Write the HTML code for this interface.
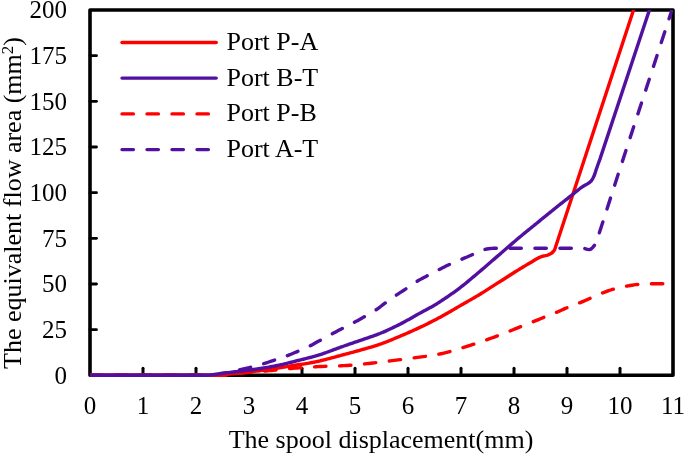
<!DOCTYPE html>
<html><head><meta charset="utf-8"><style>
html,body{margin:0;padding:0;background:#fff;width:685px;height:455px;overflow:hidden}
svg{display:block}
svg{will-change:transform}
text{font-family:"Liberation Serif",serif;font-size:26px;fill:#000}
</style></head><body>
<svg width="685" height="455" viewBox="0 0 685 455">
<rect width="685" height="455" fill="#fff"/>
<rect x="90.0" y="10.0" width="583.0" height="365.3" fill="none" stroke="#000" stroke-width="3.6" stroke-linejoin="round"/>
<line x1="90.0" y1="329.64" x2="96.5" y2="329.64" stroke="#000" stroke-width="2.8" stroke-linecap="round"/>
<line x1="90.0" y1="283.98" x2="96.5" y2="283.98" stroke="#000" stroke-width="2.8" stroke-linecap="round"/>
<line x1="90.0" y1="238.31" x2="96.5" y2="238.31" stroke="#000" stroke-width="2.8" stroke-linecap="round"/>
<line x1="90.0" y1="192.65" x2="96.5" y2="192.65" stroke="#000" stroke-width="2.8" stroke-linecap="round"/>
<line x1="90.0" y1="146.99" x2="96.5" y2="146.99" stroke="#000" stroke-width="2.8" stroke-linecap="round"/>
<line x1="90.0" y1="101.32" x2="96.5" y2="101.32" stroke="#000" stroke-width="2.8" stroke-linecap="round"/>
<line x1="90.0" y1="55.66" x2="96.5" y2="55.66" stroke="#000" stroke-width="2.8" stroke-linecap="round"/>
<line x1="143.00" y1="375.3" x2="143.00" y2="368.3" stroke="#000" stroke-width="3" stroke-linecap="round"/>
<line x1="196.00" y1="375.3" x2="196.00" y2="368.3" stroke="#000" stroke-width="3" stroke-linecap="round"/>
<line x1="249.00" y1="375.3" x2="249.00" y2="368.3" stroke="#000" stroke-width="3" stroke-linecap="round"/>
<line x1="302.00" y1="375.3" x2="302.00" y2="368.3" stroke="#000" stroke-width="3" stroke-linecap="round"/>
<line x1="355.00" y1="375.3" x2="355.00" y2="368.3" stroke="#000" stroke-width="3" stroke-linecap="round"/>
<line x1="408.00" y1="375.3" x2="408.00" y2="368.3" stroke="#000" stroke-width="3" stroke-linecap="round"/>
<line x1="461.00" y1="375.3" x2="461.00" y2="368.3" stroke="#000" stroke-width="3" stroke-linecap="round"/>
<line x1="514.00" y1="375.3" x2="514.00" y2="368.3" stroke="#000" stroke-width="3" stroke-linecap="round"/>
<line x1="567.00" y1="375.3" x2="567.00" y2="368.3" stroke="#000" stroke-width="3" stroke-linecap="round"/>
<line x1="620.00" y1="375.3" x2="620.00" y2="368.3" stroke="#000" stroke-width="3" stroke-linecap="round"/>
<text x="67" y="383.70" text-anchor="end" style="font-size:25px">0</text>
<text x="67" y="338.04" text-anchor="end" style="font-size:25px">25</text>
<text x="67" y="292.38" text-anchor="end" style="font-size:25px">50</text>
<text x="67" y="246.71" text-anchor="end" style="font-size:25px">75</text>
<text x="67" y="201.05" text-anchor="end" style="font-size:25px">100</text>
<text x="67" y="155.39" text-anchor="end" style="font-size:25px">125</text>
<text x="67" y="109.72" text-anchor="end" style="font-size:25px">150</text>
<text x="67" y="64.06" text-anchor="end" style="font-size:25px">175</text>
<text x="67" y="18.40" text-anchor="end" style="font-size:25px">200</text>
<text x="90.00" y="413.6" text-anchor="middle" style="font-size:25px">0</text>
<text x="143.00" y="413.6" text-anchor="middle" style="font-size:25px">1</text>
<text x="196.00" y="413.6" text-anchor="middle" style="font-size:25px">2</text>
<text x="249.00" y="413.6" text-anchor="middle" style="font-size:25px">3</text>
<text x="302.00" y="413.6" text-anchor="middle" style="font-size:25px">4</text>
<text x="355.00" y="413.6" text-anchor="middle" style="font-size:25px">5</text>
<text x="408.00" y="413.6" text-anchor="middle" style="font-size:25px">6</text>
<text x="461.00" y="413.6" text-anchor="middle" style="font-size:25px">7</text>
<text x="514.00" y="413.6" text-anchor="middle" style="font-size:25px">8</text>
<text x="567.00" y="413.6" text-anchor="middle" style="font-size:25px">9</text>
<text x="620.00" y="413.6" text-anchor="middle" style="font-size:25px">10</text>
<text x="673.00" y="413.6" text-anchor="middle" style="font-size:25px">11</text>
<text x="381" y="447.5" text-anchor="middle">The spool displacement(mm)</text>
<text transform="translate(21,203) rotate(-90)" text-anchor="middle">The equivalent flow area (mm<tspan style="font-size:17px" dy="-8">2</tspan><tspan dy="8">)</tspan></text>
<clipPath id="pc"><rect x="90.0" y="10.0" width="583.0" height="372"/></clipPath><g clip-path="url(#pc)">
<path d="M90.00,375.30 L91.95,375.30 L93.90,375.30 L95.85,375.30 L97.80,375.30 L99.75,375.30 L101.70,375.30 L103.65,375.30 L105.60,375.30 L107.55,375.30 L109.50,375.30 L111.45,375.30 L113.40,375.30 L115.35,375.30 L117.30,375.30 L119.25,375.30 L121.20,375.30 L123.15,375.30 L125.10,375.30 L127.05,375.30 L129.00,375.30 L130.95,375.30 L132.90,375.30 L134.85,375.30 L136.80,375.30 L138.75,375.30 L140.70,375.30 L142.65,375.30 L144.60,375.30 L146.55,375.30 L148.49,375.30 L150.44,375.30 L152.39,375.30 L154.34,375.30 L156.29,375.30 L158.24,375.30 L160.19,375.30 L162.14,375.30 L164.09,375.30 L166.04,375.30 L167.99,375.30 L169.94,375.30 L171.89,375.30 L173.84,375.30 L175.79,375.30 L177.74,375.30 L179.69,375.30 L181.64,375.30 L183.59,375.30 L185.54,375.30 L187.49,375.30 L189.44,375.30 L191.39,375.30 L193.34,375.30 L195.29,375.30 L197.24,375.30 L199.19,375.30 L201.14,375.30 L203.09,375.30 L205.04,375.30 L206.99,375.30 L208.94,375.30 L210.89,375.30 L212.84,375.30 L214.79,375.30 L216.74,375.30 L218.69,375.30 L220.64,375.30 L222.50,375.30 L222.59,375.30 L224.54,375.26 L226.49,375.14 L228.44,374.97 L230.39,374.74 L232.34,374.49 L234.29,374.20 L236.24,373.91 L238.19,373.63 L240.14,373.35 L242.09,373.10 L243.70,372.93 L244.04,372.89 L245.99,372.70 L247.94,372.52 L249.89,372.34 L251.84,372.16 L253.79,371.99 L255.74,371.82 L257.69,371.65 L259.64,371.48 L261.59,371.32 L263.54,371.15 L265.48,370.98 L267.43,370.80 L269.38,370.63 L270.20,370.55 L271.33,370.44 L273.28,370.26 L275.23,370.06 L277.18,369.86 L279.13,369.66 L281.08,369.46 L283.03,369.25 L284.98,369.06 L286.93,368.86 L288.88,368.67 L290.83,368.49 L292.78,368.31 L294.73,368.15 L296.68,368.00 L296.70,367.99 L298.63,367.85 L300.58,367.71 L302.53,367.58 L304.48,367.45 L306.43,367.32 L308.38,367.20 L310.33,367.08 L312.28,366.96 L314.23,366.86 L316.18,366.75 L318.13,366.65 L320.08,366.56 L320.55,366.53 L322.03,366.47 L323.98,366.39 L325.93,366.31 L327.88,366.24 L329.83,366.18 L331.78,366.12 L333.73,366.05 L335.68,365.99 L337.63,365.92 L339.58,365.84 L341.53,365.76 L343.48,365.67 L344.40,365.62 L345.43,365.56 L347.38,365.44 L349.33,365.31 L351.28,365.16 L353.23,365.00 L355.18,364.83 L357.13,364.66 L359.08,364.47 L361.03,364.28 L362.98,364.08 L364.93,363.88 L366.88,363.67 L368.83,363.46 L370.78,363.26 L370.90,363.25 L372.73,363.04 L374.68,362.82 L376.63,362.58 L378.58,362.33 L380.53,362.07 L382.47,361.82 L384.42,361.56 L386.37,361.31 L388.32,361.06 L388.39,361.05 L390.27,360.82 L392.22,360.59 L394.17,360.36 L396.12,360.12 L398.07,359.89 L400.02,359.66 L401.97,359.43 L403.92,359.19 L405.87,358.95 L407.82,358.70 L408.00,358.68 L409.77,358.45 L411.72,358.20 L413.67,357.94 L415.62,357.68 L417.57,357.42 L419.52,357.15 L421.47,356.88 L423.42,356.60 L425.37,356.32 L425.49,356.30 L427.32,356.04 L429.27,355.75 L431.22,355.46 L433.17,355.16 L435.12,354.85 L437.07,354.51 L438.21,354.30 L439.02,354.14 L440.97,353.73 L442.92,353.30 L444.87,352.83 L446.82,352.35 L448.77,351.84 L449.87,351.56 L450.72,351.33 L452.67,350.78 L454.62,350.20 L456.57,349.60 L458.52,348.98 L460.47,348.37 L462.42,347.75 L463.12,347.54 L464.37,347.15 L466.32,346.55 L468.27,345.95 L470.22,345.34 L472.17,344.73 L474.12,344.10 L474.78,343.88 L476.07,343.46 L478.02,342.80 L479.97,342.13 L481.92,341.46 L483.87,340.77 L485.82,340.09 L486.44,339.87 L487.77,339.40 L489.72,338.71 L491.67,338.02 L493.62,337.31 L495.57,336.60 L497.52,335.88 L498.10,335.66 L499.46,335.15 L501.41,334.40 L503.36,333.64 L505.31,332.87 L507.26,332.09 L509.21,331.32 L509.76,331.10 L511.16,330.53 L513.11,329.74 L515.06,328.94 L517.01,328.14 L518.96,327.34 L520.91,326.55 L521.42,326.35 L522.86,325.78 L524.81,325.01 L526.76,324.26 L528.71,323.50 L530.66,322.74 L532.61,321.97 L533.08,321.78 L534.56,321.19 L536.51,320.39 L538.46,319.58 L540.41,318.78 L542.36,317.97 L544.21,317.22 L544.31,317.18 L546.26,316.39 L548.21,315.62 L550.16,314.85 L552.11,314.08 L554.06,313.31 L556.01,312.53 L557.96,311.73 L559.91,310.91 L560.11,310.82 L561.86,310.05 L563.81,309.15 L565.76,308.26 L567.00,307.72 L567.71,307.43 L569.66,306.65 L571.61,305.90 L573.56,305.17 L575.51,304.44 L577.46,303.71 L579.41,302.94 L580.25,302.61 L581.36,302.15 L583.31,301.32 L585.26,300.48 L587.21,299.63 L589.16,298.78 L590.85,298.04 L591.11,297.93 L593.06,297.07 L595.01,296.19 L596.96,295.31 L598.91,294.45 L600.86,293.62 L602.81,292.83 L603.04,292.74 L604.76,292.09 L606.71,291.36 L608.66,290.66 L610.61,290.00 L612.56,289.40 L613.64,289.09 L614.51,288.85 L616.45,288.34 L618.40,287.86 L620.35,287.40 L622.30,286.97 L624.25,286.57 L626.20,286.20 L627.42,285.98 L628.15,285.86 L630.10,285.52 L632.05,285.20 L634.00,284.90 L635.95,284.64 L637.90,284.43 L639.08,284.34 L639.85,284.29 L641.80,284.16 L643.75,284.05 L645.70,283.95 L647.65,283.87 L649.60,283.81 L651.55,283.79 L651.80,283.79 L653.50,283.79 L655.45,283.79 L657.40,283.80 L659.35,283.80 L661.30,283.81 L663.25,283.82 L665.20,283.84 L667.15,283.86 L669.10,283.89 L671.05,283.93 L673.00,283.98" fill="none" stroke="#ff0000" stroke-width="3.4" stroke-dasharray="11.4 13.6" stroke-linecap="round" stroke-linejoin="round"/>
<path d="M90.00,375.30 L91.70,375.30 L93.41,375.30 L95.11,375.30 L96.81,375.30 L98.52,375.30 L100.22,375.30 L101.92,375.30 L103.63,375.30 L105.33,375.30 L107.03,375.30 L108.74,375.30 L110.44,375.30 L112.14,375.30 L113.85,375.30 L115.55,375.30 L117.26,375.30 L118.96,375.30 L120.66,375.30 L122.37,375.30 L124.07,375.30 L125.77,375.30 L127.48,375.30 L129.18,375.30 L130.88,375.30 L132.59,375.30 L134.29,375.30 L135.99,375.30 L137.70,375.30 L139.40,375.30 L141.10,375.30 L142.81,375.30 L144.51,375.30 L146.21,375.30 L147.92,375.30 L149.62,375.30 L151.32,375.30 L153.03,375.30 L154.73,375.30 L156.43,375.30 L158.14,375.30 L159.84,375.30 L161.54,375.30 L163.25,375.30 L164.95,375.30 L166.66,375.30 L168.36,375.30 L170.06,375.30 L171.77,375.30 L173.47,375.30 L175.17,375.30 L176.88,375.30 L178.58,375.30 L180.28,375.30 L181.99,375.30 L183.69,375.30 L185.39,375.30 L187.10,375.30 L188.80,375.30 L190.50,375.30 L192.21,375.30 L193.91,375.30 L195.61,375.30 L197.32,375.30 L199.02,375.30 L200.72,375.30 L202.43,375.30 L204.13,375.30 L205.83,375.30 L206.60,375.30 L207.54,375.29 L209.24,375.21 L210.94,375.07 L212.65,374.87 L214.35,374.63 L216.05,374.37 L217.76,374.08 L219.46,373.79 L221.17,373.51 L222.50,373.29 L222.87,373.23 L224.57,372.95 L226.28,372.64 L227.98,372.31 L229.68,371.96 L231.39,371.60 L233.09,371.23 L234.79,370.85 L236.50,370.47 L238.20,370.10 L239.46,369.82 L239.90,369.72 L241.61,369.35 L243.31,368.97 L245.01,368.59 L246.72,368.20 L248.42,367.79 L250.12,367.38 L250.59,367.26 L251.83,366.95 L253.53,366.51 L255.23,366.06 L256.94,365.60 L258.64,365.12 L260.34,364.64 L262.05,364.14 L263.75,363.64 L263.84,363.61 L265.45,363.12 L267.16,362.57 L268.86,362.01 L270.57,361.45 L272.27,360.87 L273.91,360.32 L273.97,360.30 L275.68,359.73 L277.38,359.17 L279.08,358.60 L280.79,358.02 L282.49,357.43 L284.19,356.83 L285.90,356.21 L286.63,355.94 L287.60,355.57 L289.30,354.91 L291.01,354.22 L292.71,353.52 L294.41,352.80 L296.12,352.08 L297.76,351.37 L297.82,351.35 L299.52,350.62 L301.23,349.88 L302.93,349.14 L304.63,348.39 L306.34,347.62 L308.04,346.82 L309.74,346.00 L309.95,345.89 L311.45,345.13 L313.15,344.21 L314.85,343.26 L316.56,342.29 L318.26,341.34 L318.96,340.96 L319.97,340.42 L321.67,339.50 L323.37,338.58 L325.08,337.66 L326.78,336.75 L328.48,335.84 L330.19,334.92 L331.89,334.01 L332.21,333.84 L333.59,333.09 L335.30,332.17 L337.00,331.25 L338.70,330.34 L340.41,329.43 L341.75,328.72 L342.11,328.54 L343.81,327.66 L345.52,326.80 L347.22,325.94 L348.92,325.09 L350.63,324.23 L352.33,323.36 L353.94,322.51 L354.03,322.46 L355.74,321.55 L357.44,320.63 L359.14,319.70 L360.85,318.75 L362.55,317.80 L364.25,316.83 L364.54,316.67 L365.96,315.86 L367.66,314.90 L369.36,313.93 L371.07,312.94 L372.77,311.93 L374.48,310.87 L375.67,310.09 L376.18,309.75 L377.88,308.55 L379.59,307.29 L381.29,305.98 L382.99,304.67 L384.70,303.37 L385.74,302.61 L386.40,302.13 L388.10,300.90 L389.81,299.68 L391.51,298.47 L393.21,297.27 L394.92,296.09 L396.34,295.12 L396.62,294.93 L398.32,293.79 L400.03,292.67 L401.73,291.57 L403.43,290.47 L405.14,289.36 L406.84,288.24 L406.94,288.18 L408.54,287.09 L410.25,285.92 L411.95,284.73 L413.65,283.56 L415.36,282.42 L417.06,281.34 L417.54,281.05 L418.76,280.33 L420.47,279.37 L422.17,278.44 L423.88,277.54 L425.58,276.64 L427.28,275.75 L427.61,275.57 L428.99,274.85 L430.69,273.95 L432.39,273.07 L434.10,272.19 L435.80,271.31 L437.50,270.44 L439.21,269.58 L439.27,269.55 L440.91,268.71 L442.61,267.83 L444.32,266.96 L446.02,266.10 L447.72,265.26 L449.43,264.45 L449.87,264.25 L451.13,263.68 L452.83,262.94 L454.54,262.22 L456.24,261.51 L457.94,260.81 L459.65,260.11 L461.35,259.39 L461.53,259.32 L463.05,258.67 L464.76,257.93 L466.46,257.20 L468.16,256.47 L469.87,255.73 L471.57,254.99 L472.13,254.75 L473.28,254.24 L474.98,253.45 L476.68,252.64 L478.39,251.86 L480.09,251.13 L481.79,250.50 L482.20,250.37 L483.50,249.95 L485.20,249.42 L486.90,248.99 L488.56,248.72 L488.61,248.72 L490.31,248.56 L492.01,248.42 L493.72,248.31 L495.42,248.23 L497.12,248.18 L498.10,248.18 L498.83,248.18 L500.53,248.18 L502.23,248.18 L503.94,248.18 L505.64,248.18 L507.34,248.18 L509.05,248.18 L510.75,248.18 L512.45,248.18 L514.16,248.18 L515.86,248.18 L517.56,248.18 L519.27,248.18 L520.97,248.18 L522.67,248.18 L524.38,248.18 L526.08,248.18 L527.79,248.18 L529.49,248.18 L531.19,248.18 L532.90,248.18 L534.60,248.18 L536.30,248.18 L538.01,248.18 L539.71,248.18 L541.41,248.18 L543.12,248.18 L544.82,248.18 L546.52,248.18 L548.23,248.18 L549.93,248.18 L551.63,248.18 L553.34,248.18 L555.04,248.18 L556.74,248.18 L558.45,248.18 L560.15,248.18 L561.85,248.18 L563.56,248.18 L565.26,248.18 L566.96,248.18 L568.67,248.18 L570.37,248.18 L572.07,248.18 L573.78,248.18 L575.48,248.18 L577.19,248.18 L578.89,248.18 L580.59,248.18 L582.30,248.18 L582.90,248.18 L584.00,248.29 L585.70,248.78 L587.41,249.34 L589.11,249.63 L589.26,249.64 L590.81,249.14 L592.52,247.68 L594.22,245.68 L594.56,245.25 L595.92,242.87 L597.63,238.38 L599.33,232.83 L614.17,186.62 L630.07,137.86 L671.94,10.00" fill="none" stroke="#5210a0" stroke-width="3.4" stroke-dasharray="11.4 13.6" stroke-linecap="round" stroke-linejoin="round"/>
<path d="M90.00,375.30 L91.55,375.30 L93.11,375.30 L94.66,375.30 L96.21,375.30 L97.77,375.30 L99.32,375.30 L100.88,375.30 L102.43,375.30 L103.98,375.30 L105.54,375.30 L107.09,375.30 L108.64,375.30 L110.20,375.30 L111.75,375.30 L113.30,375.30 L114.86,375.30 L116.41,375.30 L117.97,375.30 L119.52,375.30 L121.07,375.30 L122.63,375.30 L124.18,375.30 L125.73,375.30 L127.29,375.30 L128.84,375.30 L130.40,375.30 L131.95,375.30 L133.50,375.30 L135.06,375.30 L136.61,375.30 L138.16,375.30 L139.72,375.30 L141.27,375.30 L142.82,375.30 L144.38,375.30 L145.93,375.30 L147.49,375.30 L149.04,375.30 L150.59,375.30 L152.15,375.30 L153.70,375.30 L155.25,375.30 L156.81,375.30 L158.36,375.30 L159.91,375.30 L161.47,375.30 L163.02,375.30 L164.58,375.30 L166.13,375.30 L167.68,375.30 L169.24,375.30 L170.79,375.30 L172.34,375.30 L173.90,375.30 L175.45,375.30 L177.01,375.30 L178.56,375.30 L180.11,375.30 L181.67,375.30 L183.22,375.30 L184.77,375.30 L186.33,375.30 L187.88,375.30 L189.43,375.30 L190.99,375.30 L192.54,375.30 L194.10,375.30 L195.65,375.30 L197.20,375.30 L198.76,375.30 L200.31,375.30 L201.86,375.30 L203.42,375.30 L204.97,375.30 L206.52,375.30 L208.08,375.30 L209.63,375.30 L211.19,375.30 L211.90,375.30 L212.74,375.30 L214.29,375.26 L215.85,375.20 L217.40,375.11 L218.95,375.01 L220.51,374.89 L222.06,374.75 L223.61,374.61 L225.17,374.46 L226.72,374.31 L228.28,374.17 L229.83,374.03 L229.92,374.02 L231.38,373.89 L232.94,373.75 L234.49,373.60 L236.04,373.45 L237.60,373.29 L239.15,373.12 L240.71,372.95 L242.26,372.78 L243.81,372.60 L245.37,372.43 L246.92,372.25 L248.47,372.07 L249.00,372.01 L250.03,371.90 L251.58,371.72 L253.13,371.54 L254.69,371.36 L256.24,371.18 L257.80,370.99 L259.35,370.80 L260.90,370.61 L262.46,370.42 L264.01,370.22 L265.56,370.01 L267.12,369.81 L268.67,369.59 L269.67,369.46 L270.22,369.38 L271.78,369.15 L273.33,368.91 L274.89,368.67 L276.44,368.42 L277.99,368.17 L279.55,367.91 L281.10,367.64 L282.65,367.38 L284.21,367.11 L285.76,366.84 L287.32,366.58 L288.87,366.31 L290.42,366.05 L291.98,365.79 L292.99,365.62 L293.53,365.53 L295.08,365.28 L296.64,365.04 L298.19,364.79 L299.74,364.55 L301.30,364.31 L302.85,364.07 L304.41,363.83 L305.96,363.58 L307.51,363.32 L309.07,363.06 L310.62,362.79 L312.17,362.51 L313.13,362.33 L313.73,362.22 L315.28,361.91 L316.83,361.58 L318.39,361.24 L319.94,360.89 L320.02,360.87 L321.50,360.52 L323.05,360.15 L324.60,359.76 L326.16,359.36 L327.71,358.95 L329.26,358.53 L330.82,358.12 L332.37,357.69 L333.92,357.27 L335.48,356.84 L337.03,356.42 L338.59,356.00 L340.14,355.58 L340.16,355.57 L341.69,355.17 L343.25,354.75 L344.80,354.34 L346.35,353.93 L347.91,353.52 L349.46,353.10 L351.02,352.69 L352.57,352.27 L354.12,351.85 L355.68,351.42 L357.23,350.99 L358.78,350.56 L359.77,350.28 L360.34,350.12 L361.89,349.68 L363.44,349.24 L365.00,348.80 L366.55,348.36 L368.11,347.91 L369.66,347.46 L371.21,347.01 L372.77,346.54 L374.32,346.06 L375.87,345.58 L377.43,345.08 L378.98,344.56 L379.91,344.25 L380.53,344.03 L382.09,343.48 L383.64,342.91 L385.20,342.33 L386.75,341.72 L388.30,341.11 L389.86,340.48 L391.41,339.84 L392.96,339.20 L394.52,338.55 L396.07,337.89 L397.63,337.24 L399.18,336.58 L400.05,336.21 L400.73,335.93 L402.29,335.27 L403.84,334.60 L405.39,333.94 L406.95,333.26 L408.50,332.58 L410.05,331.90 L411.61,331.20 L413.16,330.51 L414.72,329.80 L416.27,329.09 L417.82,328.37 L419.38,327.65 L420.19,327.26 L420.93,326.91 L422.48,326.17 L424.04,325.42 L425.59,324.67 L427.14,323.91 L428.70,323.13 L430.25,322.36 L431.81,321.57 L433.36,320.78 L434.91,319.97 L436.47,319.16 L438.02,318.35 L439.57,317.52 L439.80,317.40 L441.13,316.68 L442.68,315.83 L444.23,314.97 L445.79,314.09 L447.34,313.21 L448.90,312.31 L450.45,311.41 L452.00,310.51 L453.56,309.60 L455.11,308.70 L456.66,307.79 L458.22,306.89 L459.77,305.99 L459.94,305.89 L461.33,305.10 L462.88,304.21 L464.43,303.32 L465.99,302.43 L467.54,301.54 L469.09,300.65 L470.65,299.76 L472.20,298.86 L473.75,297.96 L475.31,297.05 L476.86,296.13 L478.42,295.21 L479.97,294.27 L480.08,294.20 L481.52,293.32 L483.08,292.36 L484.63,291.39 L486.18,290.41 L487.74,289.42 L489.29,288.43 L490.84,287.43 L492.40,286.43 L493.95,285.43 L495.51,284.43 L497.06,283.43 L498.61,282.44 L500.17,281.45 L500.22,281.42 L501.72,280.46 L503.27,279.47 L504.83,278.48 L506.38,277.49 L507.94,276.49 L509.49,275.50 L511.04,274.51 L512.60,273.52 L514.15,272.54 L515.70,271.56 L517.26,270.59 L518.81,269.63 L519.83,269.00 L520.36,268.67 L521.92,267.72 L523.47,266.77 L525.03,265.84 L526.58,264.91 L528.13,263.99 L529.69,263.09 L529.90,262.97 L531.24,262.18 L532.79,261.23 L534.35,260.26 L535.90,259.32 L537.45,258.43 L539.01,257.63 L540.56,256.94 L541.56,256.58 L542.12,256.41 L543.67,256.02 L545.22,255.69 L546.78,255.31 L547.39,255.12 L548.33,254.78 L549.88,254.11 L551.44,253.23 L551.63,253.11 L552.99,251.89 L554.55,250.00 L633.52,10.00" fill="none" stroke="#ff0000" stroke-width="3.4" stroke-linecap="round" stroke-linejoin="round"/>
<path d="M90.00,375.30 L91.71,375.30 L93.41,375.30 L95.12,375.30 L96.82,375.30 L98.53,375.30 L100.23,375.30 L101.94,375.30 L103.64,375.30 L105.35,375.30 L107.05,375.30 L108.76,375.30 L110.46,375.30 L112.17,375.30 L113.87,375.30 L115.58,375.30 L117.28,375.30 L118.99,375.30 L120.69,375.30 L122.40,375.30 L124.10,375.30 L125.81,375.30 L127.51,375.30 L129.22,375.30 L130.93,375.30 L132.63,375.30 L134.34,375.30 L136.04,375.30 L137.75,375.30 L139.45,375.30 L141.16,375.30 L142.86,375.30 L144.57,375.30 L146.27,375.30 L147.98,375.30 L149.68,375.30 L151.39,375.30 L153.09,375.30 L154.80,375.30 L156.50,375.30 L158.21,375.30 L159.91,375.30 L161.62,375.30 L163.32,375.30 L165.03,375.30 L166.73,375.30 L168.44,375.30 L170.15,375.30 L171.85,375.30 L173.56,375.30 L175.26,375.30 L176.97,375.30 L178.67,375.30 L180.38,375.30 L182.08,375.30 L183.79,375.30 L185.49,375.30 L187.20,375.30 L188.90,375.30 L190.61,375.30 L192.31,375.30 L194.02,375.30 L195.72,375.30 L197.43,375.30 L199.13,375.30 L200.84,375.30 L202.54,375.30 L203.95,375.30 L204.25,375.30 L205.95,375.27 L207.66,375.19 L209.37,375.08 L211.07,374.93 L212.78,374.75 L214.48,374.55 L216.19,374.32 L217.89,374.09 L219.60,373.84 L221.30,373.58 L223.01,373.33 L224.71,373.08 L226.42,372.83 L228.12,372.60 L229.83,372.39 L229.92,372.38 L231.53,372.19 L233.24,371.99 L234.94,371.79 L236.65,371.59 L238.35,371.40 L240.06,371.20 L241.76,371.00 L243.47,370.79 L245.17,370.59 L246.88,370.37 L248.59,370.16 L250.29,369.94 L252.00,369.71 L253.70,369.48 L255.41,369.24 L256.42,369.09 L257.11,368.99 L258.82,368.73 L260.52,368.47 L262.23,368.20 L263.93,367.92 L265.64,367.64 L267.34,367.35 L269.05,367.05 L270.75,366.75 L272.46,366.43 L274.16,366.11 L275.87,365.79 L277.57,365.45 L279.28,365.10 L280.98,364.75 L282.69,364.39 L282.92,364.34 L284.39,364.01 L286.10,363.60 L287.81,363.17 L289.51,362.72 L291.22,362.26 L292.92,361.81 L294.63,361.36 L295.11,361.24 L296.33,360.93 L298.04,360.50 L299.74,360.08 L301.45,359.66 L303.15,359.24 L304.86,358.81 L306.56,358.39 L308.27,357.95 L309.97,357.51 L311.68,357.06 L313.13,356.67 L313.38,356.60 L315.09,356.13 L316.79,355.64 L318.50,355.13 L320.02,354.66 L320.20,354.60 L321.91,354.04 L323.61,353.46 L325.32,352.86 L327.03,352.24 L328.73,351.61 L330.44,350.97 L332.14,350.32 L333.85,349.68 L335.55,349.04 L337.26,348.40 L338.96,347.78 L340.16,347.35 L340.67,347.18 L342.37,346.58 L344.08,345.99 L345.78,345.40 L347.49,344.81 L349.19,344.23 L350.90,343.65 L352.60,343.06 L354.31,342.48 L356.01,341.90 L357.72,341.31 L359.42,340.72 L359.77,340.60 L361.13,340.13 L362.83,339.54 L364.54,338.96 L366.25,338.39 L367.95,337.81 L369.66,337.23 L371.36,336.64 L373.07,336.04 L374.77,335.43 L376.48,334.80 L378.18,334.15 L379.89,333.48 L379.91,333.47 L381.59,332.79 L383.30,332.07 L385.00,331.33 L386.71,330.58 L388.41,329.80 L390.12,329.01 L391.82,328.20 L393.53,327.39 L395.23,326.55 L396.94,325.71 L398.64,324.86 L400.05,324.16 L400.35,324.01 L402.05,323.13 L403.76,322.23 L405.47,321.30 L407.17,320.36 L408.88,319.41 L410.58,318.44 L412.29,317.48 L413.99,316.50 L415.70,315.53 L417.40,314.57 L419.11,313.62 L420.19,313.02 L420.81,312.67 L422.52,311.75 L424.22,310.83 L425.93,309.92 L427.63,309.00 L429.34,308.08 L431.04,307.14 L432.75,306.18 L434.45,305.19 L434.50,305.16 L436.16,304.17 L437.86,303.11 L439.57,302.02 L439.80,301.87 L441.27,300.91 L442.98,299.79 L444.69,298.65 L446.39,297.50 L448.10,296.34 L449.80,295.16 L451.51,293.97 L453.21,292.76 L454.92,291.53 L456.62,290.28 L458.33,289.02 L459.94,287.81 L460.03,287.74 L461.74,286.43 L463.44,285.09 L465.15,283.73 L466.85,282.34 L468.56,280.93 L470.26,279.51 L471.97,278.07 L473.67,276.62 L475.38,275.18 L477.08,273.73 L478.79,272.28 L480.08,271.19 L480.49,270.84 L482.20,269.39 L483.91,267.94 L485.61,266.48 L487.32,265.01 L489.02,263.53 L490.73,262.05 L492.43,260.58 L494.14,259.10 L495.84,257.62 L497.55,256.14 L499.25,254.67 L500.22,253.84 L500.96,253.20 L502.66,251.73 L504.37,250.26 L506.07,248.79 L507.78,247.32 L509.48,245.85 L511.19,244.38 L512.89,242.91 L514.60,241.46 L516.30,240.00 L518.01,238.56 L519.71,237.13 L519.83,237.03 L521.42,235.71 L523.13,234.30 L524.83,232.89 L526.54,231.50 L528.24,230.11 L529.95,228.72 L531.65,227.34 L533.36,225.96 L535.06,224.58 L536.77,223.20 L538.47,221.81 L539.97,220.60 L540.18,220.43 L541.88,219.04 L543.59,217.64 L545.29,216.25 L547.00,214.86 L548.70,213.47 L550.41,212.09 L552.11,210.71 L553.22,209.82 L553.82,209.34 L555.52,207.98 L557.23,206.62 L558.93,205.27 L560.64,203.92 L562.35,202.57 L564.05,201.23 L565.76,199.89 L567.46,198.55 L569.17,197.21 L570.87,195.86 L571.24,195.57 L572.58,194.51 L574.28,193.13 L575.99,191.74 L577.69,190.36 L579.40,189.02 L581.10,187.72 L582.37,186.81 L582.81,186.51 L584.51,185.49 L586.22,184.58 L587.92,183.62 L589.63,182.42 L590.85,181.33 L591.33,180.78 L593.04,178.05 L594.03,176.03 L594.74,174.21 L596.45,168.85 L596.68,168.17 L598.15,164.02 L599.86,159.41 L649.41,10.00" fill="none" stroke="#5210a0" stroke-width="3.4" stroke-linecap="round" stroke-linejoin="round"/>
</g>
<line x1="122" y1="42.50" x2="216.2" y2="42.50" stroke="#ff0000" stroke-width="3.4" stroke-linecap="round"/>
<text x="226.5" y="50.00">Port P-A</text>
<line x1="122" y1="78.10" x2="216.2" y2="78.10" stroke="#5210a0" stroke-width="3.4" stroke-linecap="round"/>
<text x="226.5" y="85.60">Port B-T</text>
<line x1="122" y1="113.90" x2="208.4" y2="113.90" stroke="#ff0000" stroke-width="3.4" stroke-linecap="round" stroke-dasharray="11.4 13.6"/>
<text x="226.5" y="121.40">Port P-B</text>
<line x1="122" y1="149.60" x2="208.4" y2="149.60" stroke="#5210a0" stroke-width="3.4" stroke-linecap="round" stroke-dasharray="11.4 13.6"/>
<text x="226.5" y="157.10">Port A-T</text>
</svg>
</body></html>
